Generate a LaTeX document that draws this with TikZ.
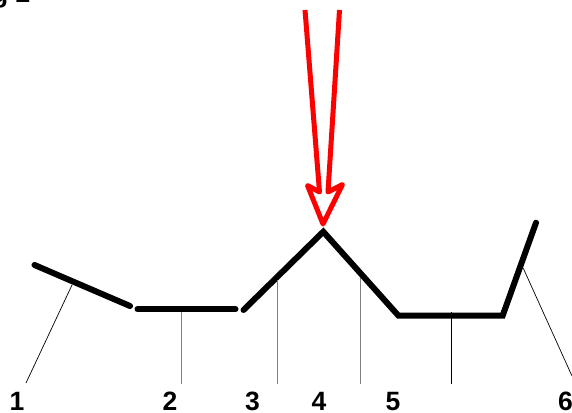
\documentclass[tikz,border=0pt]{standalone}
\usepackage{fontspec}
\setmainfont{Liberation Sans}
\begin{document}
\begin{tikzpicture}[x=1pt,y=-1pt,
  chain/.style={line width=6pt, line cap=round, line join=miter, black},
  leadgrey/.style={line width=0.8pt, draw=gray},
  leadblack/.style={line width=0.7pt, draw=black},
  num/.style={font=\fontsize{26.5}{26.5}\selectfont\bfseries, inner sep=0pt, anchor=base},
  redarrow/.style={line width=5pt, draw=red, line join=round, line cap=butt}]
\useasboundingbox (0,0) rectangle (572,412);
\begin{scope}
\clip (0,0) rectangle (572,412);
\node[num, anchor=base east] (title) at (30.5,3) {Fig 2};
% chain segments
\coordinate (a1) at (34.5,265);
\coordinate (a2) at (130,306);
\coordinate (b1) at (137.5,309.3);
\coordinate (b2) at (235.5,309.3);
\coordinate (c1) at (243.5,310);
\coordinate (c2) at (323.3,231.7);
\coordinate (c3) at (398.3,315.5);
\coordinate (c4) at (502.7,315.5);
\coordinate (c5) at (536,222.7);
\draw[chain] (a1) -- (a2);
\draw[chain] (b1) -- (b2);
\draw[chain] (c1) -- (c2) -- (c3) -- (c4) -- (c5);
% labels
\node[num] (l1) at (17,410) {1};
\node[num] (l2) at (170,410) {2};
\node[num] (l3) at (252.5,410) {3};
\node[num] (l4) at (319,410) {4};
\node[num] (l5) at (393,410) {5};
\node[num] (l6) at (565.5,410) {6};
% leader lines
\coordinate (p1) at (72,285);   \coordinate (q1) at (26,383);
\coordinate (p2) at (181.5,312); \coordinate (q2) at (181.5,384);
\coordinate (p3) at (277.7,280); \coordinate (q3) at (277.7,384);
\coordinate (p5) at (360,278);   \coordinate (q5) at (360,384);
\coordinate (p7) at (451.7,312); \coordinate (q7) at (451.7,384);
\coordinate (p6) at (523.3,268.3); \coordinate (q6) at (572,376);
\draw[leadblack] (p1) -- (q1);
\draw[leadgrey] (p2) -- (q2);
\draw[leadgrey] (p3) -- (q3);
\draw[leadgrey] (p5) -- (q5);
\draw[leadblack] (p7) -- (q7);
\draw[leadblack] (p6) -- (q6);
% red hollow arrow
\coordinate (r1) at (305,10);
\coordinate (r2) at (319.5,192);
\coordinate (r3) at (307.5,185.5);
\coordinate (r4) at (323,224);
\coordinate (r5) at (342.5,184.5);
\coordinate (r6) at (328,192);
\coordinate (r7) at (339.5,10);
\draw[redarrow] (r1) -- (r2) -- (r3) -- (r4) -- (r5) -- (r6) -- (r7);
\end{scope}
\end{tikzpicture}
\end{document}
